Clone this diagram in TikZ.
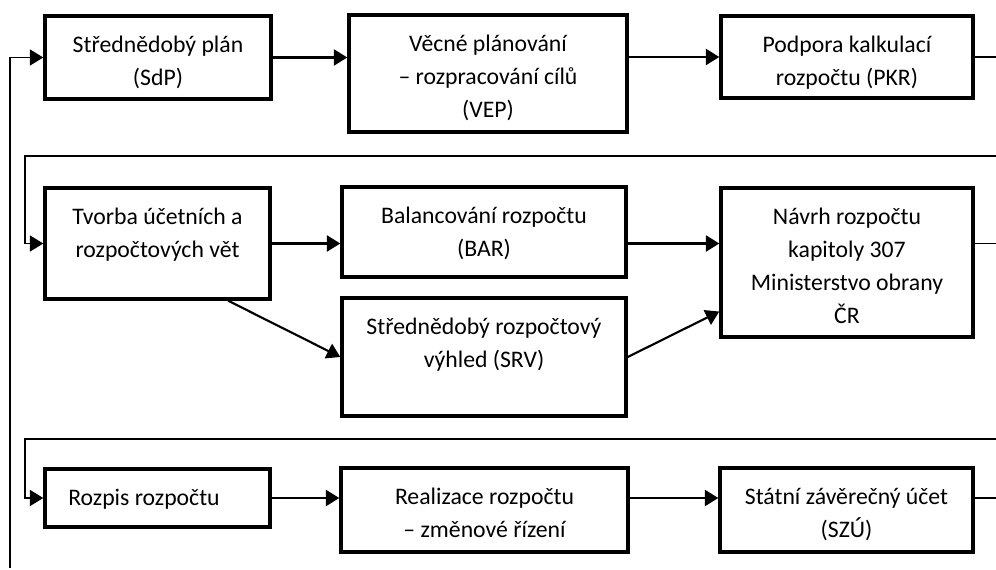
\documentclass[tikz,border=0pt]{standalone}
\usepackage{fontspec}
\setmainfont{Carlito}
\usetikzlibrary{arrows.meta,calc}
\newdimen\pxu \pxu=0.75pt
\newcommand{\bx}[4][0]{\parbox[c][#3\pxu][t]{#2\pxu}{\centering\fontsize{17.8pt}{24.75pt}\selectfont\rule{0pt}{27.5pt}\hspace*{#1\pxu}#4}}
\begin{document}
\begin{tikzpicture}[x=0.75pt,y=-0.75pt,
  box/.style={draw, line width=2.6pt, inner sep=0pt},
  arr/.style={line width=1.6pt, -{Triangle[length=10pt,width=12pt]}},
  thinarr/.style={line width=1pt, -{Triangle[length=10pt,width=12pt]}},
  thinline/.style={line width=1pt}]
\useasboundingbox (0,0) rectangle (996,570);
% row 1
\node[box] (sdp) at (158,57.5) {\bx{226}{83}{Střednědobý plán\\(SdP)}};
\node[box] (vep) at (488,73.5) {\bx{278}{117}{Věcné plánování\\– rozpracování cílů\\(VEP)}};
\node[box] (pkr) at (847,57) {\bx{252}{82}{Podpora kalkulací\\rozpočtu (PKR)}};
% row 2
\node[box] (tvo) at (157.5,243.5) {\bx{225}{111}{Tvorba účetních a\\rozpočtových vět}};
\node[box] (bar) at (484,232) {\bx{284}{90}{Balancování rozpočtu\\(BAR)}};
\node[box] (srv) at (484,357) {\bx{284}{118}{Střednědobý rozpočtový\\výhled (SRV)}};
\node[box] (nav) at (847,262.5) {\bx{252}{149}{Návrh rozpočtu\\kapitoly 307\\Ministerstvo obrany\\ČR}};
% row 3
\node[box] (roz) at (157.5,498) {\bx[-27]{225}{58}{Rozpis rozpočtu}};
\node[box] (rea) at (484.5,510) {\bx{287}{84}{Realizace rozpočtu\\– změnové řízení}};
\node[box] (szu) at (846.5,510) {\bx{253}{84}{Státní závěrečný účet\\(SZÚ)}};
% free ends
\coordinate (l0) at (10,568);
\coordinate (redge) at (996,0);
\coordinate (r2) at (996,156);
\coordinate (l2) at (25,156);
\coordinate (r3) at (996,439);
\coordinate (l3) at (25,439);
% connectors row 1
\draw[thinarr] (l0) |- (sdp.west);
\draw[arr] (sdp.east) -- (sdp.east -| vep.west);
\draw[arr] (pkr.west -| vep.east) -- (pkr.west);
\draw[thinline] (pkr.east) -- (pkr.east -| redge);
% row 2
\draw[thinarr] (r2) -- (l2) |- (tvo.west);
\draw[arr] (tvo.east) -- (tvo.east -| bar.west);
\draw[arr] (bar.east |- tvo.east) -- (tvo.east -| nav.west);
\draw[arr] (tvo.-39.4) -- (srv.west);
\draw[arr] (srv.east) -- (nav.201.8);
\draw[thinline] (nav.east |- tvo.east) -- (tvo.east -| redge);
% row 3
\draw[thinarr] (r3) -- (l3) |- (roz.west);
\draw[arr] (roz.east) -- (roz.east -| rea.west);
\draw[arr] (rea.east |- roz.east) -- (roz.east -| szu.west);
\draw[thinline] (szu.east |- roz.east) -- (roz.east -| redge);
\end{tikzpicture}
\end{document}
